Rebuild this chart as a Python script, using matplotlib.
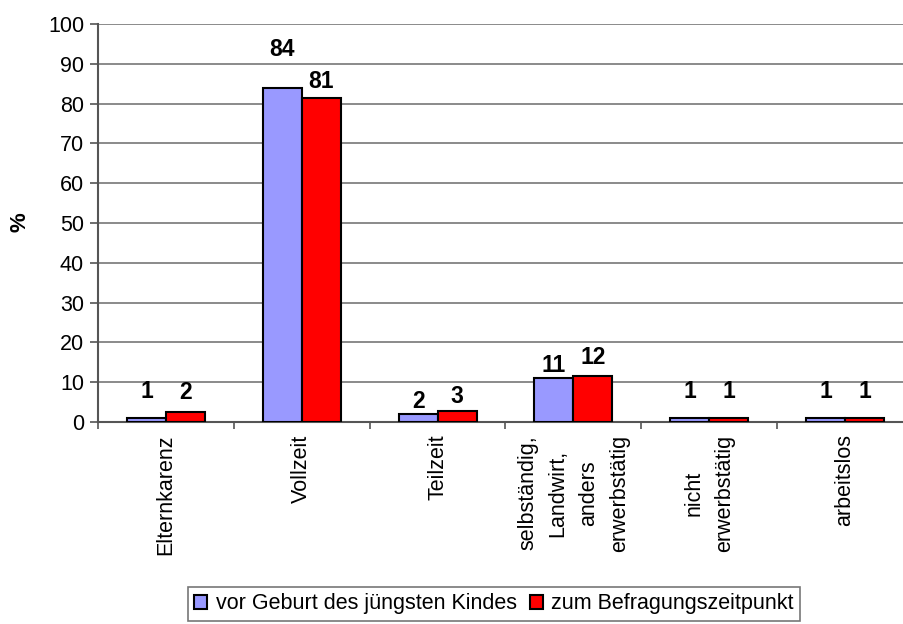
import numpy as np
import matplotlib.pyplot as plt

plt.rcParams['font.family'] = ['Liberation Sans', 'DejaVu Sans']

categories = ['Elternkarenz', 'Vollzeit', 'Teilzeit',
              'selbständig,\nLandwirt,\nanders\nerwerbstätig',
              'nicht\nerwerbstätig', 'arbeitslos']
vor_geburt = [1.1, 83.9, 2.1, 11.1, 1.1, 1.1]
befragung = [2.6, 81.5, 2.7, 11.6, 1.1, 1.1]
labels_vor = ['1', '84', '2', '11', '1', '1']
labels_bef = ['2', '81', '3', '12', '1', '1']
series_names = ['vor Geburt des jüngsten Kindes', 'zum Befragungszeitpunkt']

# label distance above bar top (pixels), as placed in the original
off_vor = [26, 39, 12, 12, 26, 26]
off_bef = [19, 16, 15, 18, 26, 26]

fig = plt.figure(figsize=(9.04, 6.24), dpi=100)
ax = fig.add_axes([98 / 904, 202 / 624, 815 / 904, 398 / 624])

x = np.arange(len(categories)) + 0.5
w = 0.287
b1 = ax.bar(x - w / 2, vor_geburt, w, color='#9999FF', edgecolor='black',
            linewidth=1.5, label=series_names[0], zorder=3)
b2 = ax.bar(x + w / 2, befragung, w, color='#FF0000', edgecolor='black',
            linewidth=1.5, label=series_names[1], zorder=3)

for bars, labs, offs in [(b1, labels_vor, off_vor), (b2, labels_bef, off_bef)]:
    for r, lab, off in zip(bars, labs, offs):
        ax.annotate(lab, (r.get_x() + r.get_width() / 2, r.get_height()),
                    xytext=(0, off), textcoords='offset pixels',
                    ha='center', va='center', fontsize=16.5, fontweight='bold')

ax.set_xlim(0, len(categories))
ax.set_ylim(0, 100)
ax.set_yticks(np.arange(0, 101, 10))
ax.yaxis.grid(True, color='#777777', linewidth=1.2, zorder=0)
ax.tick_params(axis='y', labelsize=15.5, length=6, width=1.2, color='#555555', pad=4)

ax.set_xticks(np.arange(len(categories) + 1))
ax.set_xticklabels([])
ax.set_xticks(x, minor=True)
ax.set_xticklabels(categories, minor=True, rotation=90, fontsize=15.5,
                   va='top', ha='center', multialignment='center',
                   linespacing=1.6)
ax.tick_params(axis='x', which='major', length=5, width=1.2, color='#555555')
ax.tick_params(axis='x', which='minor', length=0, pad=9)

for s in ['top', 'right']:
    ax.spines[s].set_visible(False)
ax.spines['left'].set_color('#555555')
ax.spines['left'].set_linewidth(1.5)
ax.spines['bottom'].set_color('#555555')
ax.spines['bottom'].set_linewidth(1.5)

fig.text(20 / 904, 1 - 222 / 624, '%', rotation=90, fontsize=16,
         fontweight='bold', ha='center', va='center')

leg = fig.legend(handles=[b1, b2], loc='center',
                 bbox_to_anchor=(494 / 904, 1 - 604 / 624), ncol=2,
                 fontsize=15.5, frameon=True, fancybox=False,
                 handlelength=0.6, handleheight=0.6, handletextpad=0.4,
                 columnspacing=0.6, borderpad=0.3, borderaxespad=0)
leg.get_frame().set_edgecolor('#555555')
leg.get_frame().set_linewidth(1.2)

fig.savefig('out.png', dpi=100)
